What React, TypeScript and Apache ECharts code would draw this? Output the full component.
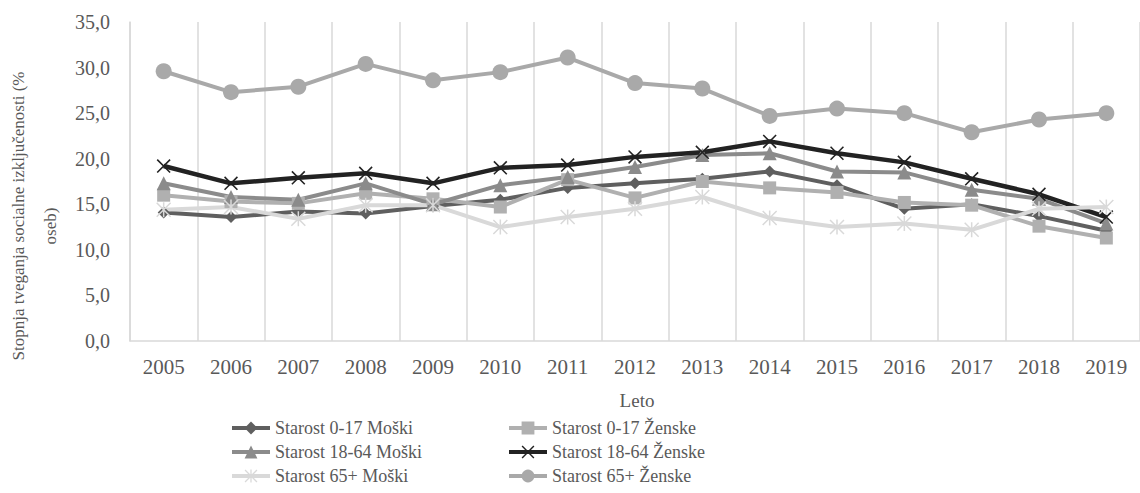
import React, { useEffect, useRef } from "react";
import * as echarts from "echarts";

const years = ["2005","2006","2007","2008","2009","2010","2011","2012","2013","2014","2015","2016","2017","2018","2019"];
const m017 = [14.1, 13.6, 14.2, 14.0, 14.8, 15.5, 16.8, 17.3, 17.8, 18.6, 17.1, 14.5, 15.0, 13.7, 12.1];
const f017 = [16.0, 15.3, 15.1, 16.2, 15.6, 14.7, 17.7, 15.7, 17.5, 16.8, 16.3, 15.2, 14.9, 12.6, 11.3];
const m1864 = [17.3, 15.8, 15.5, 17.3, 15.0, 17.1, 18.0, 19.1, 20.4, 20.6, 18.6, 18.5, 16.6, 15.6, 12.9];
const f1864 = [19.2, 17.3, 17.9, 18.4, 17.3, 19.0, 19.3, 20.2, 20.7, 21.9, 20.6, 19.6, 17.8, 16.1, 13.6];
const m65 = [14.4, 14.7, 13.4, 14.9, 14.9, 12.5, 13.6, 14.5, 15.8, 13.5, 12.5, 12.9, 12.2, 14.5, 14.7];
const f65 = [29.6, 27.3, 27.9, 30.4, 28.6, 29.5, 31.1, 28.3, 27.7, 24.7, 25.5, 25.0, 22.9, 24.3, 25.0];
const yTicks = [0, 5, 10, 15, 20, 25, 30, 35];

const seriesNames = [
  "Starost 0-17 Moški",
  "Starost 0-17 Ženske",
  "Starost 18-64 Moški",
  "Starost 18-64 Ženske",
  "Starost 65+ Moški",
  "Starost 65+ Ženske",
];

const FONT = "Liberation Serif, Times New Roman, serif";
const XSYM = "path://M0 8L8 0L100 92L92 100Z M92 0L100 8L8 100L0 92Z";
const ASTER = "path://M0 7L7 0L100 93L93 100Z M93 0L100 7L7 100L0 93Z M45 0L55 0L55 100L45 100Z";

export default function App() {
  const ref = useRef<HTMLDivElement>(null);
  useEffect(() => {
    if (!ref.current) return;
    const chart = echarts.init(ref.current, null, { renderer: "svg" });
    const mk = (name: string, data: number[], color: string, symbol: string, size: number, width = 4) => ({
      name,
      type: "line",
      data,
      symbol,
      symbolSize: size,
      showSymbol: true,
      lineStyle: { color, width },
      itemStyle: { color },
      emphasis: { disabled: true },
    });
    const legendBase = {
      orient: "vertical",
      itemWidth: 38,
      itemHeight: 16,
      itemGap: 6,
      height: 150,
      padding: 0,
      lineStyle: { width: 4 },
      textStyle: { fontFamily: FONT, fontSize: 18, color: "#595959", lineHeight: 18 },
      selectedMode: false,
    };
    chart.setOption({
      animation: false,
      backgroundColor: "#ffffff",
      grid: { left: 130, top: 22, width: 1014, height: 319 },
      xAxis: {
        type: "category",
        data: years,
        boundaryGap: true,
        axisLine: { lineStyle: { color: "#d9d9d9", width: 1.5 } },
        axisTick: { show: false },
        axisLabel: { interval: 0, color: "#595959", fontSize: 21, fontFamily: FONT, margin: 15 },
        splitLine: { show: true, interval: 0, lineStyle: { color: "#d9d9d9", width: 1.5 } },
      },
      yAxis: {
        type: "value",
        min: yTicks[0],
        max: yTicks[yTicks.length - 1],
        interval: 5,
        axisLine: { show: true, lineStyle: { color: "#d9d9d9", width: 1.5 } },
        axisTick: { show: false },
        splitLine: { show: false },
        axisLabel: {
          color: "#595959",
          fontSize: 20,
          fontFamily: FONT,
          margin: 20,
          formatter: (v: number) => v.toFixed(1).replace(".", ","),
        },
      },
      legend: [
        { ...legendBase, left: 230, top: 419, data: [seriesNames[0], seriesNames[2], seriesNames[4]] },
        { ...legendBase, left: 507, top: 419, data: [seriesNames[1], seriesNames[3], seriesNames[5]] },
      ],
      graphic: [
        {
          type: "text",
          x: 637,
          y: 400,
          style: { text: "Leto", font: `19px ${FONT}`, fill: "#595959", textAlign: "center", textVerticalAlign: "middle" },
        },
        {
          type: "text",
          x: 18,
          y: 216,
          rotation: Math.PI / 2,
          style: {
            text: "Stopnja tveganja socialne izključenosti (%",
            font: `17px ${FONT}`,
            fill: "#595959",
            textAlign: "center",
            textVerticalAlign: "middle",
          },
        },
        {
          type: "text",
          x: 50,
          y: 226,
          rotation: Math.PI / 2,
          style: { text: "oseb)", font: `17px ${FONT}`, fill: "#595959", textAlign: "center", textVerticalAlign: "middle" },
        },
      ],
      series: [
        mk(seriesNames[0], m017, "#5f5f5f", "diamond", 12),
        mk(seriesNames[1], f017, "#b0b0b0", "rect", 13),
        mk(seriesNames[2], m1864, "#8b8b8b", "triangle", 14),
        mk(seriesNames[3], f1864, "#222222", XSYM, 14, 4.5),
        mk(seriesNames[4], m65, "#d9d9d9", ASTER, 15),
        mk(seriesNames[5], f65, "#a9a9a9", "circle", 16),
      ],
    });
    return () => chart.dispose();
  }, []);
  return (
    <div
      ref={ref}
      style={{ position: "absolute", left: 0, top: 0, width: 1140, height: 493, background: "#fff" }}
    />
  );
}
